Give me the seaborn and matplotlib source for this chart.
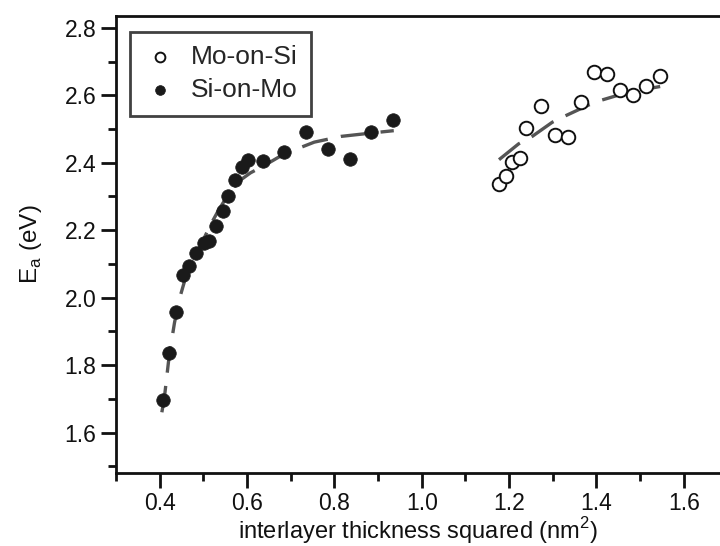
import numpy as np
import pandas as pd
import matplotlib
matplotlib.use("Agg")
import matplotlib.pyplot as plt
import seaborn as sns
from matplotlib.ticker import MultipleLocator, FormatStrFormatter

# Measured activation energies
si_on_mo_x = [0.407, 0.422, 0.438, 0.453, 0.468, 0.483, 0.502, 0.514, 0.529, 0.544,
              0.557, 0.573, 0.589, 0.603, 0.636, 0.685, 0.735, 0.786, 0.835, 0.885, 0.934]
si_on_mo_y = [1.696, 1.835, 1.958, 2.068, 2.095, 2.132, 2.162, 2.167, 2.211, 2.257,
              2.301, 2.348, 2.387, 2.407, 2.404, 2.431, 2.492, 2.441, 2.412, 2.490, 2.526]

mo_on_si_x = [1.177, 1.192, 1.207, 1.224, 1.238, 1.274, 1.305, 1.334, 1.365, 1.395,
              1.424, 1.455, 1.484, 1.514, 1.545]
mo_on_si_y = [2.338, 2.361, 2.402, 2.414, 2.503, 2.569, 2.482, 2.477, 2.579, 2.669,
              2.662, 2.616, 2.601, 2.626, 2.657]

# Fitted trend curves
fit_si_x = [0.405, 0.411, 0.422, 0.434, 0.445, 0.457, 0.475, 0.495, 0.514, 0.533,
            0.555, 0.579, 0.608, 0.640, 0.685, 0.754, 0.815, 0.899, 0.936]
fit_si_y = [1.66, 1.706, 1.83, 1.926, 1.995, 2.049, 2.108, 2.157, 2.210, 2.255,
            2.302, 2.343, 2.370, 2.392, 2.426, 2.461, 2.478, 2.490, 2.495]

fit_mo_x = [1.177, 1.222, 1.253, 1.299, 1.329, 1.382, 1.413, 1.470, 1.546]
fit_mo_y = [2.409, 2.456, 2.478, 2.520, 2.539, 2.571, 2.586, 2.608, 2.626]

sns.set_theme(style="ticks")
plt.rcParams["font.family"] = ["Liberation Sans", "DejaVu Sans"]
plt.rcParams["mathtext.fontset"] = "custom"
plt.rcParams["mathtext.rm"] = "Liberation Sans"

ink = "#111111"
fig = plt.figure(figsize=(7.2, 5.46), dpi=100)
ax = fig.add_axes([116 / 720, 1 - 473 / 546, 1 - 116 / 720, (473 - 16) / 546])

fit_color = "#555555"
sns.lineplot(x=fit_si_x, y=fit_si_y, ax=ax, color=fit_color, lw=2.4,
             sort=False, legend=False)
sns.lineplot(x=fit_mo_x, y=fit_mo_y, ax=ax, color=fit_color, lw=2.4,
             sort=False, legend=False)
for ln in ax.get_lines():
    ln.set_dashes([8, 4])
    ln.set_dash_capstyle("butt")

sns.scatterplot(x=mo_on_si_x, y=mo_on_si_y, ax=ax, s=95, marker="o",
                facecolor="white", edgecolor=ink, linewidth=1.4,
                label="Mo-on-Si", zorder=3)
sns.scatterplot(x=si_on_mo_x, y=si_on_mo_y, ax=ax, s=95, marker="o",
                color="#1a1a1a", edgecolor="#1a1a1a", linewidth=0.5,
                label="Si-on-Mo", zorder=4)

ax.set_xlim(0.30, 1.683)
ax.set_ylim(1.48, 2.835)
ax.xaxis.set_major_locator(MultipleLocator(0.2))
ax.xaxis.set_minor_locator(MultipleLocator(0.1))
ax.yaxis.set_major_locator(MultipleLocator(0.2))
ax.yaxis.set_minor_locator(MultipleLocator(0.1))
ax.xaxis.set_major_formatter(FormatStrFormatter("%.1f"))
ax.yaxis.set_major_formatter(FormatStrFormatter("%.1f"))

for side in ("left", "bottom", "top"):
    ax.spines[side].set_linewidth(2.0)
    ax.spines[side].set_color(ink)
ax.spines["right"].set_visible(False)

ax.tick_params(axis="both", which="major", direction="out", length=11, width=2.0,
               color=ink, labelsize=16.5, labelcolor=ink, pad=3)
ax.tick_params(axis="both", which="minor", direction="out", length=5.5, width=2.0,
               color=ink)
ax.tick_params(top=False, right=False, which="both")

ax.set_xlabel("interlayer thickness squared (nm$^\\mathregular{2}$)", fontsize=17,
              color=ink, labelpad=0)
ax.set_ylabel("E$_\\mathregular{a}$ (eV)", fontsize=17.5, color=ink, labelpad=15)

leg = ax.legend(loc="upper left", bbox_to_anchor=(0.023, 0.965), borderaxespad=0,
                frameon=True, fancybox=False, fontsize=19, handletextpad=0.5,
                borderpad=0.5, labelspacing=0.35, handlelength=1.3, markerscale=0.72)
leg.get_frame().set_edgecolor(ink)
leg.get_frame().set_linewidth(2.0)

fig.savefig("out.png", dpi=100)
